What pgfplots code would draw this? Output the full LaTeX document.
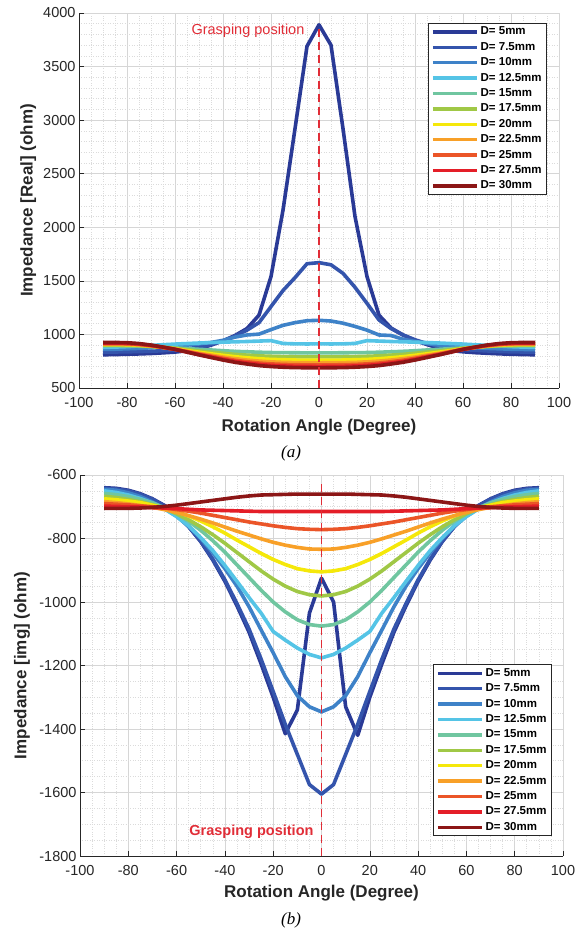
\documentclass[border=0pt]{standalone}
\usepackage{pgfplots}
\pgfplotsset{compat=1.18}
\usepackage{pgfplotstable}
\usepackage{fontspec}
\setmainfont{Liberation Sans}
\newfontfamily\capfont{Liberation Serif}

\definecolor{c5}{RGB}{42,58,150}
\definecolor{c75}{RGB}{52,84,172}
\definecolor{c10}{RGB}{62,130,200}
\definecolor{c125}{RGB}{85,196,230}
\definecolor{c15}{RGB}{112,198,160}
\definecolor{c175}{RGB}{160,200,70}
\definecolor{c20}{RGB}{245,232,10}
\definecolor{c225}{RGB}{248,160,40}
\definecolor{c25}{RGB}{235,85,40}
\definecolor{c275}{RGB}{228,30,40}
\definecolor{c30}{RGB}{140,22,22}
\definecolor{gred}{RGB}{225,45,55}
\definecolor{axgray}{RGB}{38,38,38}

\pgfplotstableread{
x d5 d75 d10 d125 d15 d175 d20 d225 d25 d275 d30
-90 810 835 860 879 893 900 905 910 915 920 925
-85 812 836 862 882 893 900 905 910 915 920 925
-80 815 838 866 886 892 899 904 908 913 918 923
-75 818 840 870 892 890 896 899 903 907 911 915
-70 822 843 875 898 887 889 891 893 895 898 901
-65 828 848 882 904 881 880 879 879 879 880 882
-60 835 855 890 910 875 870 866 863 861 861 861
-55 848 866 900 915 868 858 850 844 839 836 835
-50 868 882 912 920 861 846 834 824 817 812 809
-45 900 905 925 924 855 835 819 807 797 790 785
-40 940 940 945 928 848 824 805 789 777 768 761
-35 990 985 975 931 842 814 792 774 759 748 740
-30 1055 1040 995 934 838 807 782 761 745 733 724
-25 1180 1110 1003 938 834 800 773 751 733 720 709
-20 1540 1260 1045 942 831 796 767 744 725 711 700
-15 2160 1410 1085 916 830 793 764 739 720 706 694
-10 2920 1530 1110 912 829 791 761 737 717 702 690
-5 3690 1660 1128 911 828 790 760 736 716 701 689
0 3890 1670 1132 912 828 790 760 735 715 700 688
5 3700 1650 1125 911 828 790 760 736 716 701 689
10 2920 1570 1105 912 829 791 761 737 717 702 690
15 2100 1440 1075 916 830 793 764 739 720 706 694
20 1540 1290 1040 942 831 796 767 744 725 711 700
25 1180 1135 995 938 834 800 773 751 733 720 709
30 1060 1055 990 934 838 807 782 761 745 733 724
35 995 995 955 931 842 814 792 774 759 748 740
40 945 950 935 928 848 824 805 789 777 768 761
45 905 915 915 924 855 835 819 807 797 790 785
50 872 890 900 920 861 846 834 824 817 812 809
55 850 872 890 915 868 858 850 844 839 836 835
60 838 860 882 910 875 870 866 863 861 861 861
65 830 852 875 904 881 880 879 879 879 880 882
70 824 846 870 898 887 889 891 893 895 898 901
75 819 841 866 892 890 896 899 903 907 911 915
80 815 838 862 886 892 899 904 908 913 918 923
85 812 836 860 882 893 900 905 910 915 920 925
90 810 835 858 879 893 900 905 910 915 920 925
}\toptable

\pgfplotstableread{
x d5 d75 d10 d125 d15 d175 d20 d225 d25 d275 d30
-90 -640 -642 -645 -650 -658 -667 -675 -684 -690 -698 -705
-85 -642 -644 -648 -655 -662 -671 -678 -687 -692 -699 -705
-80 -648 -650 -656 -663 -668 -677 -682 -691 -694 -700 -705
-75 -659 -661 -668 -674 -677 -684 -687 -696 -697 -701 -704
-70 -675 -676 -685 -688 -688 -694 -695 -702 -700 -703 -702
-65 -696 -697 -705 -707 -703 -706 -704 -709 -704 -704 -699
-60 -725 -725 -730 -731 -722 -722 -715 -718 -709 -706 -695
-55 -763 -762 -762 -760 -746 -741 -729 -728 -714 -708 -690
-50 -810 -808 -800 -797 -774 -763 -745 -739 -720 -710 -685
-45 -868 -865 -845 -838 -807 -788 -763 -751 -727 -711 -680
-40 -935 -930 -895 -885 -843 -815 -783 -764 -734 -712 -675
-35 -1012 -1005 -950 -935 -883 -844 -805 -777 -741 -713 -670
-30 -1095 -1085 -1015 -986 -923 -873 -826 -789 -748 -714 -666
-25 -1195 -1180 -1088 -1035 -963 -902 -847 -801 -754 -715 -663
-20 -1300 -1282 -1160 -1093 -1000 -928 -866 -812 -760 -715 -662
-15 -1415 -1385 -1235 -1120 -1031 -950 -882 -821 -765 -715 -661
-10 -1340 -1480 -1295 -1145 -1056 -967 -895 -828 -769 -715 -660
-5 -1035 -1575 -1330 -1165 -1071 -977 -902 -833 -771 -715 -660
0 -925 -1605 -1346 -1176 -1076 -981 -905 -834 -772 -715 -660
5 -1000 -1575 -1330 -1165 -1071 -977 -902 -833 -771 -715 -660
10 -1330 -1480 -1295 -1145 -1056 -967 -895 -828 -769 -715 -660
15 -1420 -1385 -1235 -1120 -1031 -950 -882 -821 -765 -715 -661
20 -1300 -1282 -1160 -1093 -1000 -928 -866 -812 -760 -715 -662
25 -1195 -1180 -1088 -1035 -963 -902 -847 -801 -754 -715 -663
30 -1095 -1085 -1015 -986 -923 -873 -826 -789 -748 -714 -666
35 -1012 -1005 -950 -935 -883 -844 -805 -777 -741 -713 -670
40 -935 -930 -895 -885 -843 -815 -783 -764 -734 -712 -675
45 -868 -865 -845 -838 -807 -788 -763 -751 -727 -711 -680
50 -810 -808 -800 -797 -774 -763 -745 -739 -720 -710 -685
55 -763 -762 -762 -760 -746 -741 -729 -728 -714 -708 -690
60 -725 -725 -730 -731 -722 -722 -715 -718 -709 -706 -695
65 -696 -697 -705 -707 -703 -706 -704 -709 -704 -704 -699
70 -675 -676 -685 -688 -688 -694 -695 -702 -700 -703 -702
75 -659 -661 -668 -674 -677 -684 -687 -696 -697 -701 -704
80 -648 -650 -656 -663 -668 -677 -682 -691 -694 -700 -705
85 -642 -644 -648 -655 -662 -671 -678 -687 -692 -699 -705
90 -640 -642 -645 -650 -658 -667 -675 -684 -690 -698 -705
}\bottable

\pgfplotsset{
 mstyle/.style={
  scale only axis,
  xmin=-100, xmax=100,
  xtick={-100,-80,...,100},
  minor x tick num=3,
  grid=both,
  major grid style={color=black!16, line width=0.6pt},
  minor grid style={color=black!14, dotted, line width=0.6pt},
  axis x line*=bottom, axis y line*=left,
  axis line style={color=axgray, line width=0.8pt, -},
  tick align=inside,
  major tick length=5pt, minor tick length=0pt,
  tick style={color=axgray, line width=0.6pt},
  ticklabel style={font=\fontsize{14.5}{16}\selectfont, text=axgray},
  xticklabel style={yshift=-6pt},
  /pgf/number format/assume math mode=true,
  /pgf/number format/1000 sep={},
  scaled ticks=false,
  label style={font=\bfseries\fontsize{17}{19}\selectfont, text=axgray},
  every axis plot/.append style={line width=3.6pt, line join=round},
  legend cell align=left,
  legend style={draw=axgray, line width=0.6pt, fill=white,
    font=\bfseries\fontsize{11.5}{12}\selectfont,
    inner xsep=3pt, inner ysep=2pt, row sep=2.4pt,
    nodes={text height=8.5pt, text depth=2.5pt, inner ysep=1pt}},
  legend image code/.code={\draw[#1, line width=3.4pt] (0pt,0pt) -- (44pt,0pt);},
 }
}

\begin{document}
\begin{tikzpicture}
\path[use as bounding box] (0,0) rectangle (585pt,-931pt);

\begin{axis}[mstyle,
  at={(79pt,-388pt)}, anchor=south west,
  width=480pt, height=375pt,
  ymin=500, ymax=4000, ytick={500,1000,...,4000}, minor y tick num=4,
  xlabel={Rotation Angle (Degree)},
  ylabel={Impedance [Real] (ohm)},
  xlabel style={at={(axis description cs:0.5,-0.104)}, anchor=center},
  ylabel style={at={(axis description cs:-0.106,0.5)}, anchor=center},
  legend style={at={(0.975,0.973)}, anchor=north east},
]
\addplot[c5] table[x=x,y=d5]{\toptable};
\addplot[c75] table[x=x,y=d75]{\toptable};
\addplot[c10] table[x=x,y=d10]{\toptable};
\addplot[c125] table[x=x,y=d125]{\toptable};
\addplot[c15] table[x=x,y=d15]{\toptable};
\addplot[c175] table[x=x,y=d175]{\toptable};
\addplot[c20] table[x=x,y=d20]{\toptable};
\addplot[c225] table[x=x,y=d225]{\toptable};
\addplot[c25] table[x=x,y=d25]{\toptable};
\addplot[c275] table[x=x,y=d275]{\toptable};
\addplot[c30] table[x=x,y=d30]{\toptable};
\addplot[gred, line width=1.8pt, dash pattern=on 8pt off 5pt, forget plot] coordinates {(0,500) (0,3880)};
\node[text=gred, font=\fontsize{14.5}{16}\selectfont] at (axis cs:-29.6,3838) {Grasping position};
\legend{D= 5mm, D= 7.5mm, D= 10mm, D= 12.5mm, D= 15mm, D= 17.5mm, D= 20mm, D= 22.5mm, D= 25mm, D= 27.5mm, D= 30mm}
\end{axis}

\node[font=\capfont\itshape\fontsize{17}{19}\selectfont] at (291pt,-453pt) {(a)};

\begin{axis}[mstyle,
  at={(80pt,-856pt)}, anchor=south west,
  width=483pt, height=381pt,
  ymin=-1800, ymax=-600, ytick={-1800,-1600,...,-600}, minor y tick num=3,
  xlabel={Rotation Angle (Degree)},
  ylabel={Impedance [img] (ohm)},
  xlabel style={at={(axis description cs:0.5,-0.097)}, anchor=center},
  ylabel style={at={(axis description cs:-0.12,0.5)}, anchor=center},
  legend style={at={(0.977,0.0525)}, anchor=south east},
]
\addplot[c5] table[x=x,y=d5]{\bottable};
\addplot[c75] table[x=x,y=d75]{\bottable};
\addplot[c10] table[x=x,y=d10]{\bottable};
\addplot[c125] table[x=x,y=d125]{\bottable};
\addplot[c15] table[x=x,y=d15]{\bottable};
\addplot[c175] table[x=x,y=d175]{\bottable};
\addplot[c20] table[x=x,y=d20]{\bottable};
\addplot[c225] table[x=x,y=d225]{\bottable};
\addplot[c25] table[x=x,y=d25]{\bottable};
\addplot[c275] table[x=x,y=d275]{\bottable};
\addplot[c30] table[x=x,y=d30]{\bottable};
\addplot[gred, line width=1.8pt, dash pattern=on 8pt off 5pt, forget plot] coordinates {(0,-1800) (0,-615)};
\node[text=gred, font=\bfseries\fontsize{14.5}{16}\selectfont] at (axis cs:-29,-1724) {Grasping position};
\legend{D= 5mm, D= 7.5mm, D= 10mm, D= 12.5mm, D= 15mm, D= 17.5mm, D= 20mm, D= 22.5mm, D= 25mm, D= 27.5mm, D= 30mm}
\end{axis}

\node[font=\capfont\itshape\fontsize{17}{19}\selectfont] at (291pt,-920pt) {(b)};
\end{tikzpicture}
\end{document}
